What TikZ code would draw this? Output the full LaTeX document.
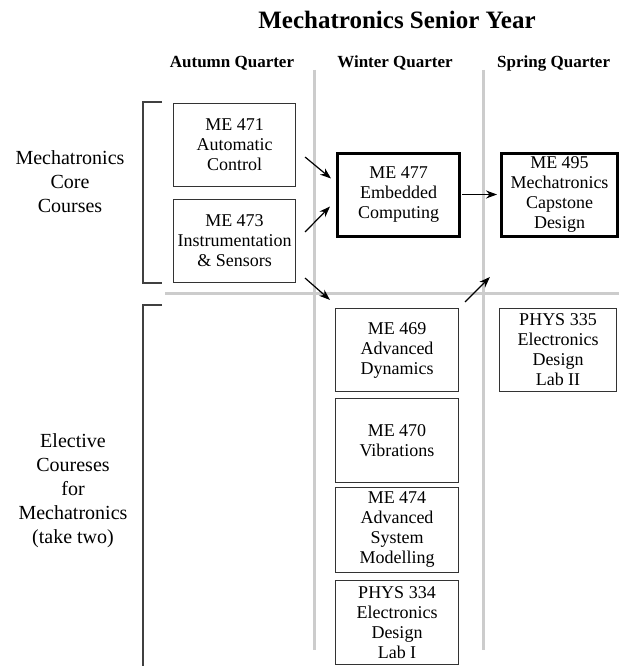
\documentclass[tikz,border=0pt]{standalone}
\usepackage{fontspec}
\setmainfont{Liberation Serif}
\usetikzlibrary{arrows.meta}

\begin{document}
\begin{tikzpicture}[x=1pt, y=-1pt,
    course/.style={draw=black!80, line width=1.1pt, minimum width=122pt,
      minimum height=83pt, inner sep=0pt, align=center,
      font=\fontsize{18}{20}\selectfont},
    corecourse/.style={course, draw=black, line width=3pt},
    quarter/.style={font=\fontsize{17}{20}\selectfont\bfseries},
    grouplabel/.style={align=center, font=\fontsize{20}{24}\selectfont},
    divider/.style={black!20, line width=3pt},
    bracket/.style={black!75, line width=1.2pt},
    arr/.style={-{Stealth[length=11pt,width=8pt]}, line width=1.2pt}]
  \useasboundingbox (0,0) rectangle (619,666);
  \clip (0,0) rectangle (619,666);

  % --- headings ---
  \node[font=\fontsize{25}{30}\selectfont\bfseries] (title) at (397,20) {Mechatronics Senior Year};
  \node[quarter] (autumn) at (232,63) {Autumn Quarter};
  \node[quarter] (winter) at (395,63) {Winter Quarter};
  \node[quarter, anchor=west, inner sep=0pt] (spring) at (497,63) {Spring Quarter};

  % --- quarter dividers ---
  \draw[divider] (314,70) -- (314,650);
  \draw[divider] (483,70) -- (483,650);
  \draw[divider] (165,293) -- (619,293);

  % --- core courses ---
  \node[grouplabel] (corelbl) at (70,182) {Mechatronics\\Core\\Courses};
  \draw[bracket] (162,102) -| (143,283) -- (162,283);
  \node[course] (me471) at (234.5,145) {ME 471\\Automatic\\Control};
  \node[course] (me473) at (234.5,241) {ME 473\\Instrumentation\\\& Sensors};
  \node[corecourse] (me477) at (398.5,194.5) {ME 477\\Embedded\\Computing};
  \node[corecourse, minimum width=116pt] (me495) at (559.5,194.5) {ME 495\\Mechatronics\\Capstone\\Design};

  % --- elective courses ---
  \node[grouplabel] (electlbl) at (73,491) {Elective\\Coureses\\for\\Mechatronics\\(take two)};
  \draw[bracket] (162,305) -| (143,670);
  \node[course, minimum width=123pt] (me469) at (397,350) {ME 469\\Advanced\\Dynamics};
  \node[course, minimum width=123pt, minimum height=84pt] (me470) at (397,440.5) {ME 470\\Vibrations};
  \node[course, minimum width=123pt, minimum height=85pt] (me474) at (397,530) {ME 474\\Advanced\\System\\Modelling};
  \node[course, minimum width=123pt, minimum height=84pt] (phys334) at (397,622.5) {PHYS 334\\Electronics\\Design\\Lab I};
  \node[course, minimum width=117pt] (phys335) at (558,350) {PHYS 335\\Electronics\\Design\\Lab II};

  % --- prerequisites ---
  \draw[arr] ([shift={(9,12)}]me471.east) -- ([shift={(-5,-16)}]me477.west);
  \draw[arr] ([shift={(9,-9)}]me473.east) -- ([shift={(-6,12)}]me477.west);
  \draw[arr] ([shift={(1,0)}]me477.east) -- ([shift={(-3,0)}]me495.west);
  \draw[arr] ([shift={(9,-5)}]me473.south east) -- ([shift={(-5,-8)}]me469.north west);
  \draw[arr] ([shift={(6,-6)}]me469.north east) -- ([shift={(-9,-31)}]phys335.north west);
\end{tikzpicture}
\end{document}
